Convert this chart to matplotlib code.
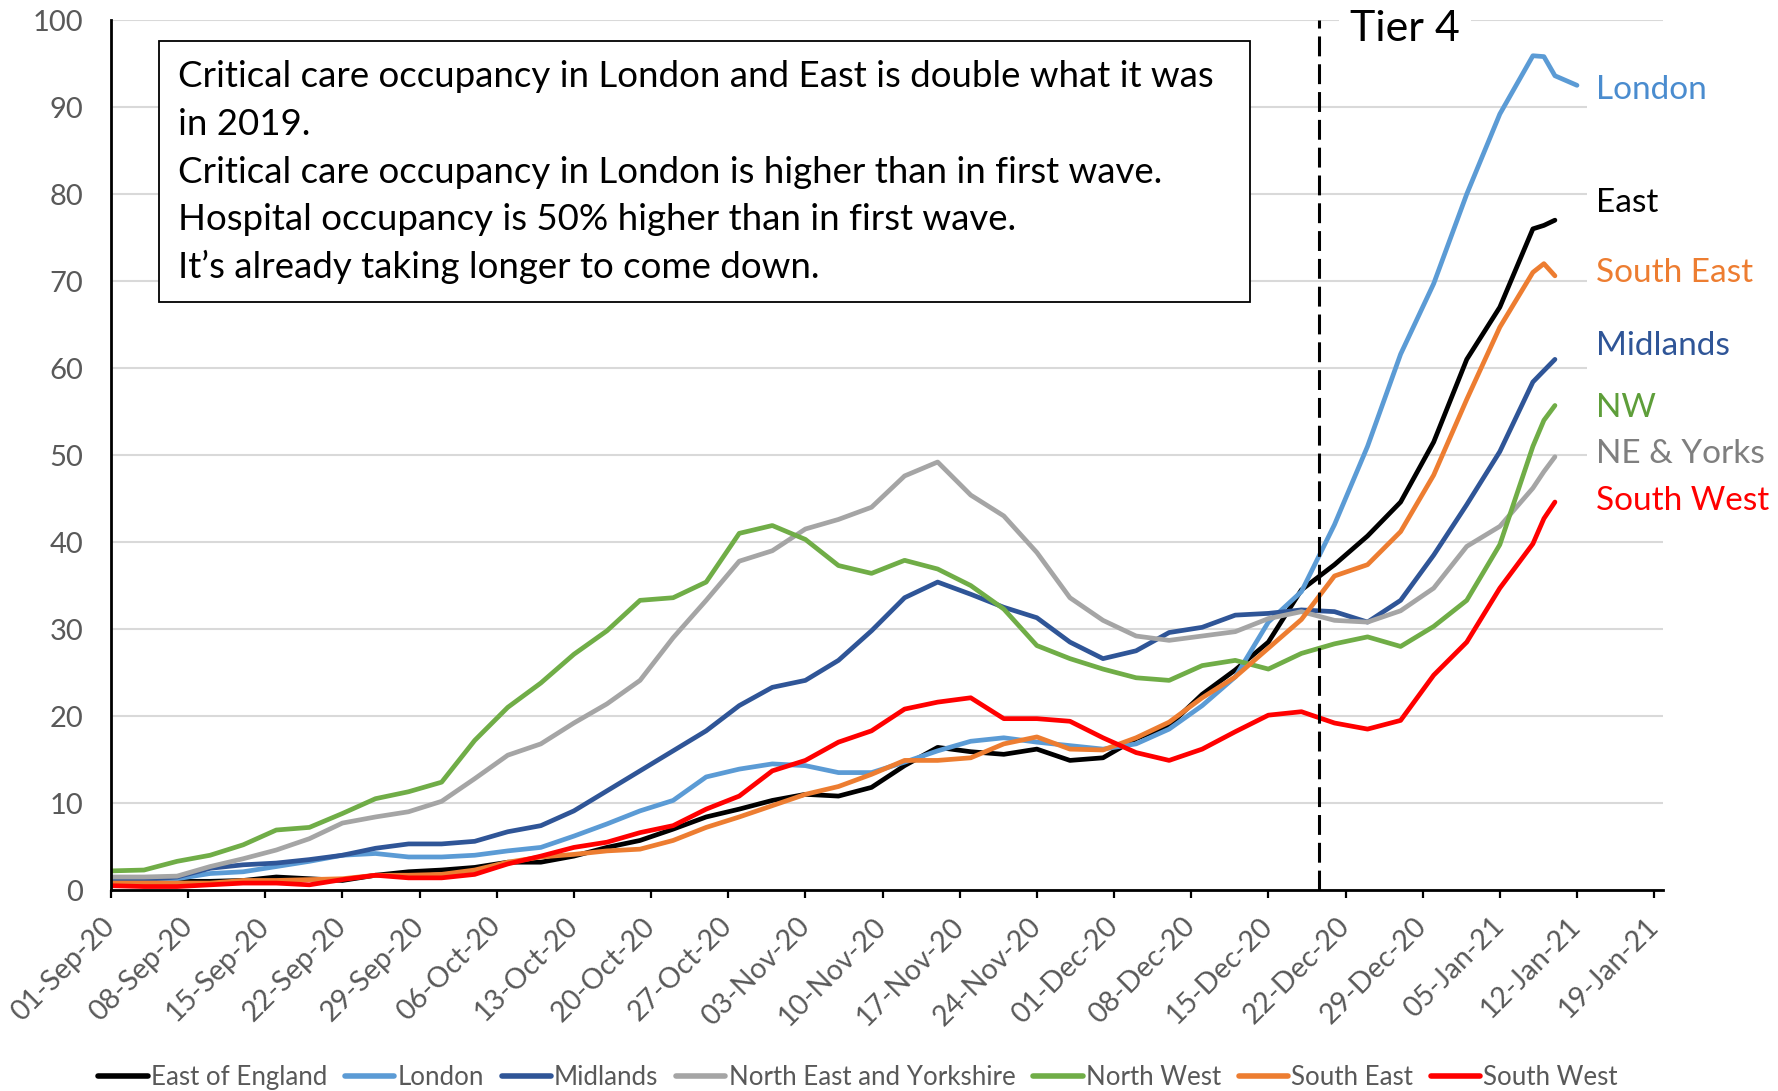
import matplotlib
matplotlib.use("Agg")
import matplotlib.pyplot as plt
import matplotlib.dates as mdates
from matplotlib.patches import Rectangle
import pandas as pd

plt.rcParams['font.family'] = ['Lato', 'DejaVu Sans']

# day offsets from 01-Sep-20
days = [0, 3, 6, 9, 12, 15, 18, 21, 24, 27, 30, 33, 36, 39, 42, 45, 48, 51, 54, 57,
        60, 63, 66, 69, 72, 75, 78, 81, 84, 87, 90, 93, 96, 99, 102, 105, 108, 111,
        114, 117, 120, 123, 126, 129, 130, 131]
london_days = days + [133]

east = [0.8, 0.8, 1.0, 1.0, 1.1, 1.5, 1.3, 1.1, 1.7, 2.1, 2.3, 2.6, 3.2, 3.2, 3.9, 4.9,
        5.7, 7.0, 8.4, 9.3, 10.3, 11.0, 10.8, 11.8, 14.3, 16.4, 15.9, 15.6, 16.2, 14.9,
        15.2, 17.4, 18.9, 22.5, 25.3, 28.5, 34.5, 37.4, 40.7, 44.6, 51.5, 61.0, 67.0,
        76.0, 76.4, 77.0]
london = [1.3, 1.3, 1.3, 1.9, 2.1, 2.7, 3.3, 4.0, 4.2, 3.8, 3.8, 4.0, 4.5, 4.9, 6.2, 7.6,
          9.1, 10.3, 13.0, 13.9, 14.5, 14.3, 13.5, 13.5, 14.7, 16.0, 17.1, 17.5, 17.0,
          16.6, 16.2, 16.8, 18.5, 21.2, 24.5, 30.8, 34.3, 42.0, 51.0, 61.6, 69.7, 80.0,
          89.2, 95.9, 95.8, 93.6, 92.5]
midlands = [1.1, 1.2, 1.5, 2.5, 2.9, 3.1, 3.5, 4.0, 4.8, 5.3, 5.3, 5.6, 6.7, 7.4, 9.1,
            11.4, 13.7, 16.0, 18.3, 21.2, 23.3, 24.1, 26.4, 29.8, 33.6, 35.4, 34.0, 32.5,
            31.3, 28.5, 26.6, 27.5, 29.6, 30.2, 31.6, 31.8, 32.2, 32.0, 30.8, 33.3, 38.5,
            44.3, 50.4, 58.4, 59.7, 61.0]
ne_yorks = [1.5, 1.5, 1.6, 2.7, 3.6, 4.6, 5.9, 7.7, 8.4, 9.0, 10.2, 12.8, 15.5, 16.8,
            19.2, 21.4, 24.1, 29.0, 33.3, 37.8, 39.0, 41.5, 42.6, 44.0, 47.6, 49.2, 45.4,
            43.0, 38.8, 33.6, 31.0, 29.2, 28.7, 29.2, 29.7, 31.2, 32.0, 31.0, 30.8, 32.1,
            34.7, 39.5, 41.8, 46.2, 48.1, 49.8]
north_west = [2.2, 2.3, 3.3, 4.0, 5.2, 6.9, 7.2, 8.8, 10.5, 11.3, 12.4, 17.2, 21.0, 23.8,
              27.1, 29.8, 33.3, 33.6, 35.4, 41.0, 41.9, 40.3, 37.3, 36.4, 37.9, 36.9,
              35.0, 32.3, 28.1, 26.6, 25.4, 24.4, 24.1, 25.8, 26.4, 25.4, 27.2, 28.3,
              29.1, 28.0, 30.3, 33.3, 39.7, 51.0, 54.0, 55.7]
south_east = [0.8, 0.8, 0.8, 0.8, 1.1, 1.1, 1.2, 1.3, 1.7, 1.7, 1.8, 2.3, 3.2, 3.8, 4.1,
              4.5, 4.7, 5.7, 7.2, 8.4, 9.7, 11.0, 11.9, 13.3, 14.9, 14.9, 15.2, 16.8,
              17.6, 16.2, 16.1, 17.5, 19.3, 22.1, 24.5, 27.8, 31.1, 36.1, 37.4, 41.2,
              47.7, 56.4, 64.7, 71.0, 72.0, 70.6]
south_west = [0.5, 0.4, 0.4, 0.6, 0.8, 0.8, 0.6, 1.2, 1.7, 1.4, 1.4, 1.8, 3.0, 3.9, 4.9,
              5.5, 6.6, 7.4, 9.3, 10.8, 13.7, 14.9, 17.0, 18.3, 20.8, 21.6, 22.1, 19.7,
              19.7, 19.4, 17.5, 15.8, 14.9, 16.2, 18.2, 20.1, 20.5, 19.2, 18.5, 19.5,
              24.7, 28.5, 34.7, 39.8, 42.7, 44.6]

names = ["East of England", "London", "Midlands", "North East and Yorkshire",
         "North West", "South East", "South West"]
colors = ["#000000", "#5B9BD5", "#2F5597", "#A5A5A5", "#70AD47", "#ED7D31", "#FF0000"]

end_labels = ["London", "East", "South East", "Midlands", "NW", "NE & Yorks", "South West"]
end_label_y = [92.0, 79.0, 70.9, 62.5, 55.4, 50.1, 44.7]
end_label_colors = ["#4A8CCF", "#000000", "#ED7D31", "#2F5597", "#5E9E3A", "#7F7F7F", "#FF0000"]

box_lines = ["Critical care occupancy in London and East is double what it was",
             "in 2019.",
             "Critical care occupancy in London is higher than in first wave.",
             "Hospital occupancy is 50% higher than in first wave.",
             "It\u2019s already taking longer to come down."]

start = pd.Timestamp("2020-09-01")
to_dates = lambda d: [start + pd.Timedelta(days=x) for x in d]
tier4 = pd.Timestamp("2020-12-19 15:00")

fig = plt.figure(figsize=(17.78, 10.91), dpi=100)
ax = fig.add_axes([0.0624, 0.1842, 0.8729, 0.7974])

series = [east, london, midlands, ne_yorks, north_west, south_east, south_west]
for name, vals, c in zip(names, series, colors):
    d = london_days if name == "London" else days
    ax.plot(to_dates(d), vals, color=c, lw=3.4, label=name, solid_capstyle='round')

ax.axvline(tier4, color='black', lw=2.2, linestyle=(0, (6.5, 2.6)), zorder=5)

ax.set_ylim(0, 100)
ax.set_xlim(start, start + pd.Timedelta(days=140.8))
ax.set_yticks(range(0, 101, 10))
ticks = pd.date_range("2020-09-01", "2021-01-19", freq="7D")
ax.set_xticks(ticks)
ax.xaxis.set_major_formatter(mdates.DateFormatter("%d-%b-%y"))

ax.grid(axis='y', color='#D9D9D9', lw=1.5)
ax.set_axisbelow(True)
for s in ['top', 'right']:
    ax.spines[s].set_visible(False)
for s in ['left', 'bottom']:
    ax.spines[s].set_linewidth(2)
ax.tick_params(axis='y', length=0, pad=20, labelsize=21, labelcolor='#595959')
ax.tick_params(axis='x', length=6, width=1.6, direction='out', pad=17,
               labelsize=20.5, labelcolor='#595959')
for lab in ax.get_xticklabels():
    lab.set_rotation(45)
    lab.set_ha('right')
    lab.set_va('center')
    lab.set_rotation_mode('anchor')

# annotation box
ax.add_patch(Rectangle((0.0309, 0.6759), 0.703, 0.30, transform=ax.transAxes,
                       facecolor='white', edgecolor='black', lw=1.3, zorder=6))
for i, line in enumerate(box_lines):
    ax.text(0.0432, 0.9226 - i * 0.0547, line, transform=ax.transAxes,
            fontsize=26.4, va='baseline', ha='left', zorder=7)

ax.text(start + pd.Timedelta(days=112.4), 99.0, "Tier 4", fontsize=31, va='center',
        ha='left', zorder=7, bbox=dict(facecolor='white', edgecolor='none', pad=8))

for lab, y, c in zip(end_labels, end_label_y, end_label_colors):
    ax.text(start + pd.Timedelta(days=134.7), y, lab, color=c, fontsize=24,
            va='center', ha='left', zorder=7, clip_on=False,
            bbox=dict(facecolor='white', edgecolor='none', pad=6))

leg = fig.legend(loc='center', bbox_to_anchor=(0.4826, 0.0124), ncol=7, frameon=False,
                 fontsize=18.6, handlelength=1.9, handletextpad=0.12, columnspacing=0.7,
                 labelcolor='#595959')
for l in leg.get_lines():
    l.set_linewidth(4)

fig.savefig("out.png", dpi=100)
